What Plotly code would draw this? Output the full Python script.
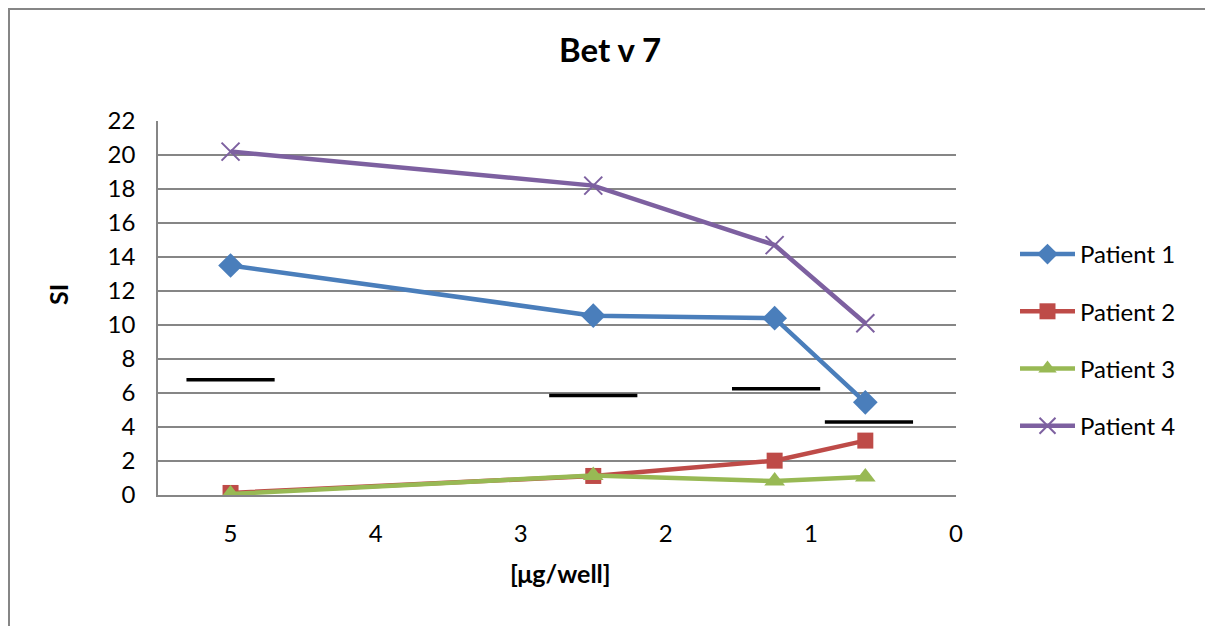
import plotly.graph_objects as go

doses = [5, 2.5, 1.25, 0.625]
patient1 = [13.5, 10.55, 10.4, 5.45]
patient2 = [0.12, 1.12, 2.02, 3.2]
patient3 = [0.06, 1.15, 0.82, 1.06]
patient4 = [20.2, 18.2, 14.7, 10.1]
thresh_x = [5, 2.5, 1.24, 0.6]
thresh_y = [6.78, 5.85, 6.25, 4.3]

OFF = 8  # default page body margin
W, H = 1213 - OFF, 626 - OFF
L, R, T, B = 158 - OFF, 956 - OFF, 121 - OFF, 495 - OFF
pw, ph = R - L, B - T

def px(x):
    return (x - OFF - L) / pw

def py(y):
    return (B - (y - OFF)) / ph

FONT = "Lato, Liberation Sans, sans-serif"

series = [
    ("Patient 1", patient1, "#4A7EBB", dict(symbol="diamond", size=19)),
    ("Patient 2", patient2, "#BE4B48", dict(symbol="square", size=16)),
    ("Patient 3", patient3, "#98B954", dict(symbol="triangle-up", size=18)),
    ("Patient 4", patient4, "#7D60A0", dict(symbol="x-thin-open", size=18, line=dict(width=2, color="#7D60A0"))),
]

fig = go.Figure()
fig.add_trace(go.Scatter(
    x=thresh_x, y=thresh_y, mode="markers", showlegend=False,
    marker=dict(symbol="line-ew", size=63, line=dict(width=3.5, color="black")),
    hoverinfo="skip"))

for i, (name, vals, col, mk) in enumerate(series):
    mk = dict(mk)
    mk.setdefault("color", col)
    fig.add_trace(go.Scatter(
        x=doses, y=vals, mode="lines+markers", name=name,
        legendgroup=f"g{i}",
        line=dict(color=col, width=4.5),
        marker=mk))

fig.update_layout(
    width=W, height=H,
    margin=dict(l=L, r=W - R, t=T, b=H - B),
    paper_bgcolor="white", plot_bgcolor="white",
    font=dict(family=FONT, size=24, color="black"),
    showlegend=True,
    legend=dict(x=px(1015), y=py(232), xanchor="left", yanchor="top",
                tracegroupgap=23, font=dict(size=24), itemwidth=55,
                bgcolor="rgba(0,0,0,0)"),
    xaxis=dict(range=[5.5, 0], tickvals=[5, 4, 3, 2, 1, 0], showgrid=False,
               zeroline=False, showline=True, linecolor="#868686", linewidth=1.5,
               ticks="outside", ticklen=16, tickcolor="rgba(0,0,0,0)",
               tickfont=dict(size=24)),
    yaxis=dict(range=[0, 22], dtick=2, showgrid=True, gridcolor="#868686", gridwidth=1.5,
               zeroline=False, showline=True, linecolor="#868686", linewidth=1.5,
               ticks="outside", ticklen=16, tickcolor="rgba(0,0,0,0)",
               tickfont=dict(size=24)),
    shapes=[dict(type="rect", xref="paper", yref="paper",
                 x0=px(9), x1=px(1240), y0=py(660), y1=py(9),
                 line=dict(color="#868686", width=2), fillcolor="rgba(0,0,0,0)", layer="below")],
    annotations=[
        dict(text="<b>Bet v 7</b>", x=px(610), y=py(49), xref="paper", yref="paper",
             showarrow=False, font=dict(size=33), xanchor="center", yanchor="middle"),
        dict(text="<b>SI</b>", x=px(58), y=py(295), xref="paper", yref="paper",
             showarrow=False, font=dict(size=25), textangle=-90, xanchor="center", yanchor="middle"),
        dict(text="<b>[μg/well]</b>", x=px(560), y=py(573), xref="paper", yref="paper",
             showarrow=False, font=dict(size=25), xanchor="center", yanchor="middle"),
    ],
)

fig.write_html("out.html")
